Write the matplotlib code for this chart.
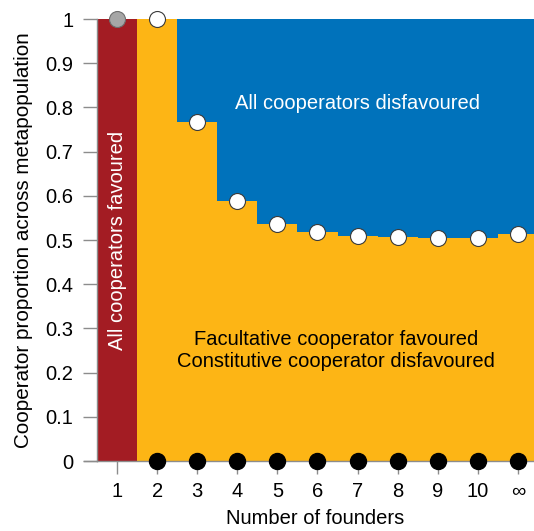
import numpy as np
import matplotlib
matplotlib.use("Agg")
import matplotlib.pyplot as plt

plt.rcParams['font.family'] = ['Liberation Sans', 'DejaVu Sans']

# Data
tick_labels = ['1', '2', '3', '4', '5', '6', '7', '8', '9', '10', '\u221e']
founders_pos = [1, 2, 3, 4, 5, 6, 7, 8, 9, 10, 11]
threshold_pos = [2, 3, 4, 5, 6, 7, 8, 9, 10, 11]
threshold_vals = [1.0, 0.767, 0.588, 0.537, 0.517, 0.509, 0.506, 0.505, 0.505, 0.514]
lower_vals = [0, 0, 0, 0, 0, 0, 0, 0, 0, 0]
single_pos = [1]
single_val = [1.0]
yticks = [0, 0.1, 0.2, 0.3, 0.4, 0.5, 0.6, 0.7, 0.8, 0.9, 1]
ytick_labels = ['0', '0.1', '0.2', '0.3', '0.4', '0.5', '0.6', '0.7', '0.8', '0.9', '1']

RED = '#A31C23'
YELLOW = '#FDB515'
BLUE = '#0072BB'
GRAY = '#8C8C8C'
FS = 14.5

fig = plt.figure(figsize=(5.34, 5.31), dpi=100)
ax = fig.add_axes([0.1816, 0.1318, 1.0 - 0.1816, 0.9642 - 0.1318])

edges = np.array(threshold_pos + [threshold_pos[-1] + 1]) - 0.5
ax.stairs(np.ones(len(threshold_vals)), edges, baseline=0, fill=True, color=BLUE, lw=0)
ax.stairs(threshold_vals, edges, baseline=0, fill=True, color=YELLOW, lw=0)
ax.bar(single_pos, single_val, width=1.0, color=RED, lw=0)

ax.plot(single_pos, single_val, 'o', ms=11.5, mfc='#A6A6A6', mec='#6E6E6E', mew=0.8, clip_on=False, zorder=5)
ax.plot(threshold_pos, threshold_vals, 'o', ms=11.5, mfc='white', mec='#3A3A3A', mew=0.8, clip_on=False, zorder=5)
ax.plot(threshold_pos, lower_vals, 'o', ms=11.5, mfc='black', mec='black', clip_on=False, zorder=5)

ax.set_xlim(0.5, 11.4)
ax.set_ylim(0, 1)
ax.set_xticks(founders_pos)
ax.set_xticklabels(tick_labels)
ax.set_yticks(yticks)
ax.set_yticklabels(ytick_labels)
ax.tick_params(axis='both', width=1, color=GRAY, labelsize=FS)
ax.tick_params(axis='x', length=9, pad=6)
ax.tick_params(axis='y', length=10, pad=7)

for s in ['top', 'right']:
    ax.spines[s].set_visible(False)
for s in ['left', 'bottom']:
    ax.spines[s].set_color(GRAY)
    ax.spines[s].set_linewidth(1)
ax.plot([-0.03, 0], [0, 0], transform=ax.transAxes, color=GRAY, lw=1, clip_on=False)

ax.set_xlabel('Number of founders', fontsize=FS, labelpad=6)
ax.set_ylabel('Cooperator proportion across metapopulation', fontsize=14.9, labelpad=9)

ax.text(6.99, 0.808, 'All cooperators disfavoured', color='white', fontsize=FS,
        ha='center', va='center')
ax.text(6.47, 0.25, 'Facultative cooperator favoured\nConstitutive cooperator disfavoured',
        color='black', fontsize=FS, ha='center', va='center', linespacing=1.25)
ax.text(1, 0.5, 'All cooperators favoured', color='white', fontsize=FS,
        ha='center', va='center', rotation=90)

fig.savefig('out.png', dpi=100)
